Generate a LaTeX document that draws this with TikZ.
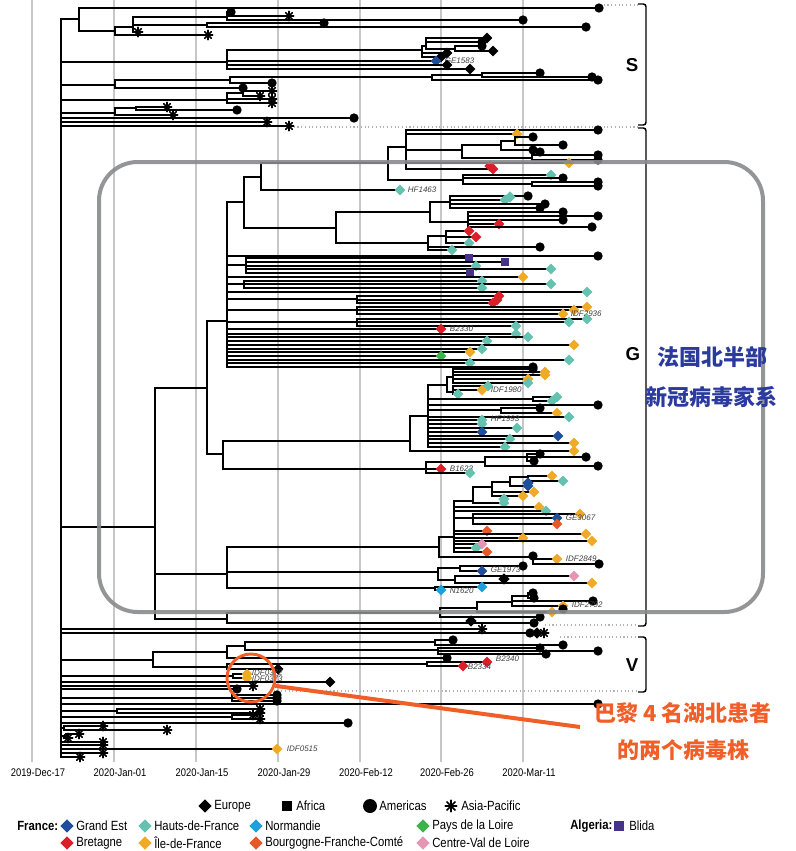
\documentclass[tikz,border=0pt]{standalone}
\usepackage{fontspec}
\setmainfont{Liberation Sans}
\newfontfamily\nar{Liberation Sans}[FakeStretch=0.85]
\newfontfamily\cjk{Noto Sans CJK SC}
\usetikzlibrary{shapes.geometric}
\definecolor{cGE}{RGB}{31,78,156}
\definecolor{cHF}{RGB}{102,194,176}
\definecolor{cNO}{RGB}{30,160,220}
\definecolor{cPL}{RGB}{60,180,75}
\definecolor{cBR}{RGB}{220,30,40}
\definecolor{cIF}{RGB}{240,170,40}
\definecolor{cBF}{RGB}{230,90,40}
\definecolor{cCV}{RGB}{230,150,180}
\definecolor{cBL}{RGB}{70,50,140}
\definecolor{cblue}{RGB}{43,58,158}
\definecolor{corange}{RGB}{240,95,40}
\definecolor{crect}{RGB}{136,138,140}
\newcommand\Tp[4]{\draw[br] (#2,#1) -- (#3,#1) node[#4]{};}
\newcommand\TTp[4]{\draw[br, line width=2.2pt] (#2,#1) -- (#3,#1) node[#4]{};}
\newcommand\Hl[3]{\draw[br] (#2,#1) -- (#3,#1);}
\newcommand\Vl[3]{\draw[br] (#1,#2) -- (#1,#3);}
\newcommand\Mk[3]{\node[#3] at (#1,#2) {};}
\newcommand\Lb[3]{\node[tiplab] at (#1,#2) {#3};}
\begin{document}
\begin{tikzpicture}[x=0.75pt,y=-0.75pt,
  br/.style={line width=1.05pt, line cap=rect, black},
  dot/.style={circle, fill=black, inner sep=0pt, minimum size=7pt},
  dm/.style={diamond, inner sep=0pt, minimum size=8.5pt, fill=#1},
  dEu/.style={dm=black}, dGE/.style={dm=cGE}, dHF/.style={dm=cHF},
  dNO/.style={dm=cNO}, dPL/.style={dm=cPL}, dBR/.style={dm=cBR},
  dIF/.style={dm=cIF}, dBF/.style={dm=cBF}, dCV/.style={dm=cCV},
  sqm/.style={rectangle, inner sep=0pt, minimum size=6pt, fill=#1},
  sBL/.style={sqm=cBL},
  ast/.style={circle, inner sep=0pt, minimum size=8pt,
    path picture={\draw[line width=1.2pt]
      (path picture bounding box.north)--(path picture bounding box.south)
      (path picture bounding box.east)--(path picture bounding box.west)
      (path picture bounding box.north east)--(path picture bounding box.south west)
      (path picture bounding box.north west)--(path picture bounding box.south east);}},
  tiplab/.style={anchor=west, inner sep=0.5pt, text=black!75, font=\itshape\fontsize{6}{7}\selectfont},
  grid/.style={black!22, line width=0.8pt},
  dotg/.style={black!30, line width=0.8pt, dotted},
  brk/.style={line width=1.1pt, rounded corners=2pt},
  axl/.style={font=\nar\fontsize{8.3}{10}\selectfont},
  lgt/.style={anchor=west, inner sep=0pt, font=\nar\fontsize{10}{12}\selectfont},
  lgb/.style={anchor=west, inner sep=0pt, font=\nar\bfseries\fontsize{10}{12}\selectfont},
  big/.style={minimum size=10pt}
]
\useasboundingbox (0,0) rectangle (796,851);
% grid
\foreach \x/\t in {32/2019-Dec-17,114/2020-Jan-01,196/2020-Jan-15,278/2020-Jan-29,360/2020-Feb-12,441/2020-Feb-26,523/2020-Mar-11}{
  \draw[grid] (\x,0) -- (\x,762);
  \node[axl] (ax\x) at (\x+6,773) {\t};
}
% dotted guides
\draw[dotg] (600,5) -- (638,5);
\draw[dotg] (290,127) -- (638,127);
\draw[dotg] (545,625) -- (638,625);
\draw[dotg] (560,637) -- (638,637);
\draw[dotg] (270,691) -- (638,691);
% ---------------- root
\Vl{61}{19}{757}
% ---------------- S clade
\Hl{19}{61}{79} \Vl{79}{8}{31}
\TTp{8}{79}{599}{dot}
\Hl{31}{79}{115} \Vl{115}{27}{35}
\Hl{27}{115}{133} \Vl{133}{17}{32}
\Hl{17}{133}{227} \Vl{227}{12}{20}
\Tp{12}{227}{231}{dot} \Tp{16}{227}{289}{ast} \Tp{20}{227}{523}{dot}
\Hl{25}{133}{207} \Vl{207}{23}{27}
\Tp{23}{207}{324}{dot} \Tp{27}{207}{586}{dot}
\Tp{32}{133}{138}{ast} \Tp{35}{115}{208}{ast}
\Hl{62}{61}{227} \Vl{227}{50}{69}
\Hl{50}{227}{422} \Vl{422}{46}{57}
\Hl{46}{422}{426} \Vl{426}{38}{49}
\Tp{38}{426}{487}{dEu} \Tp{42}{426}{482}{dot}
\Hl{49}{426}{455} \Vl{455}{46}{51}
\Tp{46}{455}{482}{dot} \Tp{51}{455}{493}{dEu}
\Tp{53}{422}{447}{dEu} \Tp{57}{422}{441}{dEu}
\Tp{61}{227}{436}{dGE} \Lb{444}{61}{GE1583}
\Tp{65}{227}{447}{dEu} \Tp{69}{227}{470}{dEu}
\Hl{85}{61}{115} \Vl{115}{80}{88}
\Hl{80}{115}{230} \Vl{230}{77}{83}
\Hl{77}{230}{432} \Vl{432}{75}{80}
\Hl{75}{432}{482} \Vl{482}{73}{77}
\Tp{73}{482}{540}{dot} \Tp{77}{482}{592}{dot}
\Tp{80}{432}{598}{dot}
\Tp{83}{230}{272}{dot}
\Tp{88}{115}{243}{dot}
\Hl{100}{61}{227} \Vl{227}{93}{103}
\Hl{93}{227}{243} \Vl{243}{91}{96}
\Tp{91}{243}{272}{ast} \Tp{96}{243}{260}{ast}
\Tp{99}{227}{272}{ast} \Tp{103}{227}{272}{ast}
\Hl{113}{61}{115} \Vl{115}{108}{115}
\Hl{108}{115}{136} \Vl{136}{107}{110}
\Tp{107}{136}{167}{ast} \Tp{110}{136}{237}{dot}
\Tp{115}{115}{173}{ast}
\Tp{118}{61}{354}{dot} \Tp{122}{61}{267}{ast} \Tp{126}{61}{289}{ast}
% ---------------- G clade
\Hl{527}{61}{155} \Vl{155}{388}{619}
\Hl{388}{155}{207} \Vl{207}{321}{454}
\Hl{321}{207}{227} \Vl{227}{202}{367}
\Hl{202}{227}{244} \Vl{244}{177}{228}
\Hl{177}{244}{261} \Vl{261}{163}{190}
\Hl{163}{261}{388} \Vl{388}{147}{180}
\Hl{147}{388}{406} \Vl{406}{130}{169}
\TTp{130}{406}{598}{dot}
\Tp{134}{406}{517}{dIF}
\Hl{150}{406}{462} \Vl{462}{145}{158}
\Hl{145}{462}{501} \Vl{501}{141}{150}
\Hl{141}{501}{515} \Vl{515}{137}{145}
\Tp{137}{515}{533}{dot} \Tp{145}{515}{563}{dot}
\Tp{150}{501}{533}{dot} \Mk{540}{152}{dot}
\Hl{158}{462}{532} \Vl{532}{155}{160}
\Tp{155}{532}{598}{dot} \Tp{160}{532}{598}{dot}
\Tp{163}{406}{569}{dIF}
\Tp{169}{406}{493}{dBR} \Mk{490}{166}{dBR}
\Hl{180}{388}{463} \Vl{463}{175}{184}
\Tp{175}{463}{551}{dHF} \Tp{178}{463}{563}{dot}
\Hl{184}{463}{532} \Vl{532}{182}{186}
\Tp{182}{532}{598}{dot} \Tp{186}{532}{598}{dot}
\Tp{190}{261}{400}{dHF} \Lb{407}{190}{HF1463}
\Hl{228}{244}{336} \Vl{336}{212}{243}
\Hl{212}{336}{430} \Vl{430}{202}{222}
\Hl{202}{430}{450} \Vl{450}{196}{208}
\Tp{196}{450}{528}{dot} \Tp{200}{450}{505}{dHF} \Mk{510}{197}{dHF}
\Tp{204}{450}{545}{dot} \Tp{208}{450}{540}{dot}
\Hl{222}{430}{468} \Vl{468}{212}{227}
\Tp{212}{468}{563}{dot} \Tp{216}{468}{598}{dot} \Tp{220}{468}{563}{dot}
\Tp{224}{468}{499}{dBR} \Tp{227}{468}{592}{dot}
\Hl{243}{336}{428} \Vl{428}{236}{250}
\Hl{236}{428}{446} \Vl{446}{231}{243}
\Tp{231}{446}{469}{dBR} \Tp{237}{446}{476}{dBR} \Tp{243}{446}{469}{dHF}
\Tp{247}{428}{540}{dot} \Tp{250}{428}{452}{dHF}
% big polytomy
\TTp{256}{227}{598}{dot}
\Hl{265}{227}{246} \Vl{246}{258}{273}
\Tp{258}{246}{469}{sBL} \Tp{262}{246}{505}{sBL} \Tp{266}{246}{476}{dHF}
\Tp{269}{246}{551}{dHF} \Tp{273}{246}{470}{sBL}
\Tp{277}{227}{523}{dIF}
\Hl{284}{227}{244} \Vl{244}{281}{288}
\Tp{281}{244}{482}{dHF} \Tp{284}{244}{551}{dHF} \Tp{288}{244}{482}{dHF}
\Tp{292}{227}{587}{dHF}
\Hl{299}{227}{357} \Vl{357}{296}{303}
\Tp{296}{357}{499}{dBR} \Tp{300}{357}{497}{dBR} \Tp{303}{357}{493}{dBR}
\Hl{310}{227}{357} \Vl{357}{307}{314}
\Tp{307}{357}{587}{dIF} \Tp{310}{357}{574}{dIF} \Tp{314}{357}{563}{dIF} \Lb{570}{314}{IDF2936}
\Hl{322}{227}{357} \Vl{357}{319}{326}
\Tp{319}{357}{587}{dHF} \Tp{322}{357}{569}{dHF} \Tp{326}{357}{516}{dHF}
\Tp{329}{227}{441}{dBR} \Lb{449}{329}{B2330}
\Tp{334}{227}{516}{dHF} \Tp{337}{227}{528}{dHF} \Tp{341}{227}{487}{dHF}
\Tp{345}{227}{574}{dIF} \Tp{349}{227}{482}{dHF} \Tp{352}{227}{470}{dIF}
\Tp{356}{227}{441}{dPL} \Tp{360}{227}{569}{dHF} \Tp{363}{227}{470}{dHF}
\Tp{367}{227}{533}{dot}
% second subclade
\Hl{454}{207}{223} \Vl{223}{441}{469}
\Hl{441}{223}{410} \Vl{410}{416}{451}
\Hl{416}{410}{428} \Vl{428}{385}{447}
\Hl{385}{428}{447} \Vl{447}{377}{392}
\Hl{377}{447}{453} \Vl{453}{369}{383}
\Tp{369}{453}{533}{dot} \Tp{372}{453}{545}{dIF} \Tp{375}{453}{545}{dIF}
\Tp{379}{453}{528}{dIF} \Tp{383}{453}{528}{dHF}
\Hl{392}{447}{453} \Vl{453}{386}{394}
\Tp{386}{453}{488}{dHF} \Tp{390}{453}{482}{dIF} \Lb{490}{390}{IDF1980}
\Tp{394}{453}{458}{dHF}
\Hl{399}{428}{533} \Vl{533}{397}{401}
\Tp{397}{533}{557}{dHF} \Tp{401}{533}{552}{dHF}
\Tp{405}{428}{598}{dot}
\Hl{410}{428}{501} \Vl{501}{408}{413}
\Tp{408}{501}{540}{dot} \Tp{413}{501}{557}{dIF}
\Tp{417}{428}{569}{dHF}
\Tp{420}{428}{482}{dHF} \Lb{490}{419}{HF1993}
\Tp{424}{428}{482}{dHF} \Tp{428}{428}{517}{dHF}
\Tp{432}{428}{482}{dGE} \Tp{436}{428}{558}{dGE}
\Tp{439}{428}{510}{dHF} \Tp{443}{428}{574}{dIF} \Tp{447}{428}{505}{dHF}
\Tp{451}{410}{574}{dIF}
\Hl{469}{223}{426} \Vl{426}{462}{473}
\Hl{462}{426}{485} \Vl{485}{457}{466}
\Hl{457}{485}{527} \Vl{527}{454}{461}
\Tp{454}{527}{540}{dot} \Tp{461}{527}{534}{dot} \Tp{457}{527}{586}{dot}
\Tp{466}{485}{598}{dot}
\Tp{469}{426}{441}{dBR} \Lb{449}{469}{B1623}
\Tp{473}{426}{470}{dHF}
% lower G
\Hl{574}{155}{227} \Vl{227}{547}{588}
\Hl{547}{227}{439} \Vl{439}{537}{557}
\Hl{537}{439}{454} \Vl{454}{501}{552}
\Hl{501}{454}{473} \Vl{473}{487}{503}
\Hl{487}{473}{492} \Vl{492}{482}{496}
\Hl{482}{492}{510} \Vl{510}{477}{486}
\Hl{477}{510}{528} \Vl{528}{476}{481}
\Tp{476}{528}{552}{dIF} \Tp{481}{528}{563}{dHF}
\Tp{486}{510}{528}{dGE} \Mk{528}{483}{dGE}
\Tp{492}{492}{534}{dIF} \Tp{496}{492}{523}{dIF}
\Tp{503}{473}{504}{dHF} \Mk{504}{499}{dHF}
\Tp{507}{454}{539}{dIF} \Tp{511}{454}{546}{dHF}
\Hl{518}{454}{473} \Vl{473}{514}{524}
\Tp{514}{473}{580}{dIF} \Tp{518}{473}{557}{dGE} \Lb{565}{518}{GE3067}
\Tp{524}{473}{557}{dBF}
\Tp{531}{454}{487}{dBF}
\Tp{534}{454}{586}{dIF} \Tp{538}{454}{523}{dIF} \Tp{541}{454}{592}{dIF}
\Tp{544}{454}{482}{dCV} \Tp{548}{454}{476}{dHF} \Tp{552}{454}{487}{dBF}
\Hl{557}{439}{533} \Vl{533}{556}{564}
\Mk{533}{556}{dot}
\Tp{559}{533}{557}{dIF} \Lb{565}{559}{IDF2849}
\Tp{564}{533}{599}{dot}
\Hl{572}{227}{438} \Vl{438}{568}{580}
\Hl{568}{438}{460} \Vl{460}{566}{571}
\Tp{566}{460}{523}{dot} \Tp{571}{460}{482}{dGE} \Lb{490}{570}{GE1973}
\Hl{580}{438}{455} \Vl{455}{576}{583}
\Tp{576}{455}{574}{dCV} \Mk{504}{579}{dEu} \Tp{583}{455}{592}{dIF}
\Hl{588}{227}{435} \Vl{435}{587}{590}
\Tp{587}{435}{482}{dNO} \Tp{590}{435}{441}{dNO} \Lb{449}{591}{N1620}
\Hl{619}{155}{227} \Vl{227}{613}{623}
\Hl{613}{227}{440} \Vl{440}{608}{617}
\Hl{608}{440}{477} \Vl{477}{602}{612}
\Hl{602}{477}{512} \Vl{512}{596}{606}
\Hl{596}{512}{528} \Vl{528}{593}{598}
\Tp{593}{528}{533}{dot} \Tp{598}{528}{534}{dot}
\Tp{601}{512}{593}{dot}
\Tp{606}{512}{563}{dIF} \Lb{571}{605}{IDF2792} \Mk{563}{609}{dot}
\Tp{612}{477}{552}{dIF}
\Tp{617}{440}{540}{dot}
\Tp{623}{227}{534}{dot} \Mk{471}{621}{dEu}
% root children between G and V
\Tp{629}{61}{482}{ast}
\TTp{633}{61}{530}{dot} \Mk{537}{633}{dEu} \Mk{544}{633}{ast}
% ---------------- V clade
\Hl{660}{61}{153} \Vl{153}{652}{667}
\Hl{652}{153}{227} \Vl{227}{646}{658}
\Hl{646}{227}{245} \Vl{245}{642}{650}
\Hl{642}{245}{435} \Vl{435}{640}{645}
\Tp{640}{435}{453}{dot} \Tp{645}{435}{563}{dot}
\Hl{650}{245}{438} \Vl{438}{648}{654}
\Tp{648}{438}{540}{dot} \Tp{651}{438}{598}{dot} \Tp{654}{438}{546}{dot}
\Tp{658}{227}{447}{dot}
\Hl{667}{153}{227} \Vl{227}{664}{669}
\Hl{664}{227}{427} \Vl{427}{662}{666}
\Tp{662}{427}{487}{dBR} \Lb{495}{659}{B2340}
\Tp{666}{427}{463}{dBR} \Lb{467}{667}{B2334}
\Tp{669}{227}{278}{dEu}
% ---------------- basal
\Hl{676}{61}{233} \Vl{233}{674}{678}
\Tp{674}{233}{247}{dIF} \Tp{678}{233}{247}{dIF}
\Lb{251}{673}{IDF0372} \Lb{251}{679}{IDF0373}
\Tp{682}{61}{330}{dEu}
\Tp{686}{61}{253}{ast}
\Tp{689}{61}{237}{dot}
\Hl{698}{61}{232} \Vl{232}{695}{701}
\Tp{695}{232}{277}{dot} \Tp{698}{232}{277}{dot} \Tp{701}{232}{277}{dot}
\Tp{704}{61}{598}{dot}
\Hl{711}{61}{117} \Vl{117}{709}{713}
\Tp{709}{117}{260}{ast} \Tp{713}{117}{260}{ast}
\Hl{717}{61}{232} \Vl{232}{715}{719}
\Tp{715}{232}{253}{ast} \Tp{719}{232}{260}{ast}
\Tp{723}{61}{348}{dot}
\Hl{728}{61}{64} \Vl{64}{726}{730}
\Tp{726}{64}{103}{ast} \Tp{730}{64}{167}{ast}
\Hl{736}{61}{66} \Vl{66}{734}{738}
\Tp{734}{66}{79}{ast} \Tp{738}{66}{68}{ast}
\Tp{742}{61}{103}{ast} \Tp{745}{61}{103}{ast}
\Tp{749}{61}{277}{dIF} \Lb{286}{749}{IDF0515}
\Tp{753}{61}{103}{ast} \Tp{757}{61}{80}{ast}
% ---------------- brackets
\draw[brk] (638,4) -- (646,4) -- (646,125) -- (638,125);
\draw[brk] (638,128) -- (646,128) -- (646,626) -- (638,626);
\draw[brk] (638,637) -- (646,637) -- (646,692) -- (638,692);
\node[font=\bfseries\fontsize{14}{16}\selectfont] (labS) at (632,65) {S};
\node[font=\bfseries\fontsize{14}{16}\selectfont] (labG) at (633,354) {G};
\node[font=\bfseries\fontsize{14}{16}\selectfont] (labV) at (632,665) {V};
% ---------------- highlight box
\draw[crect, line width=3pt, rounded corners=29pt, draw opacity=0.9] (99,162) rectangle (763,612);
\node[text=cblue, font=\cjk\bfseries\fontsize{16.5}{20}\selectfont] (zh1) at (712,357) {法国北半部};
\node[text=cblue, font=\cjk\bfseries\fontsize{16.5}{20}\selectfont] (zh2) at (711,397) {新冠病毒家系};
% ---------------- annotation
\node[draw=corange, circle, line width=2.2pt, minimum size=36pt, inner sep=0pt] (circ) at (251,678) {};
\coordinate (callend) at (580,727);
\draw[corange, line width=3pt] (circ.-18) -- (callend);
\node[text=corange, font=\cjk\bfseries\fontsize{16.5}{20}\selectfont] (zh3) at (683,713) {巴黎 4 名湖北患者};
\node[text=corange, font=\cjk\bfseries\fontsize{16.5}{20}\selectfont] (zh4) at (683,750) {的两个病毒株};
% ---------------- legend
\node[dEu, big] (lgE) at (205,806) {}; \node[lgt] (tE) at (214,806) {Europe};
\node[sqm=black, minimum size=8pt] (lgA) at (287,806) {}; \node[lgt] (tA) at (296,806) {Africa};
\node[dot, minimum size=10.5pt] (lgM) at (370,806) {}; \node[lgt] (tM) at (379,806) {Americas};
\node[ast, minimum size=9.5pt] (lgP) at (451,806) {}; \node[lgt] (tP) at (461,806) {Asia-Pacific};
\node[lgb] (tFr) at (17,826) {France:};
\node[dGE, big] (l1) at (67,826) {}; \node[lgt] (t1) at (76,826) {Grand Est};
\node[dHF, big] (l2) at (145,826) {}; \node[lgt] (t2) at (154,826) {Hauts-de-France};
\node[dNO, big] (l3) at (256,826) {}; \node[lgt] (t3) at (265,826) {Normandie};
\node[dPL, big] (l4) at (423,826) {}; \node[lgt] (t4) at (432,826) {Pays de la Loire};
\node[lgb] (tAl) at (570,826) {Algeria:};
\node[sBL, minimum size=8pt] (l9) at (619,826) {}; \node[lgt] (t9) at (629,826) {Blida};
\node[dBR, big] (l5) at (67,843) {}; \node[lgt] (t5) at (76,843) {Bretagne};
\node[dIF, big] (l6) at (145,843) {}; \node[lgt] (t6) at (154,843) {Île-de-France};
\node[dBF, big] (l7) at (256,843) {}; \node[lgt] (t7) at (265,843) {Bourgogne-Franche-Comté};
\node[dCV, big] (l8) at (423,843) {}; \node[lgt] (t8) at (432,843) {Centre-Val de Loire};
\end{tikzpicture}
\end{document}
